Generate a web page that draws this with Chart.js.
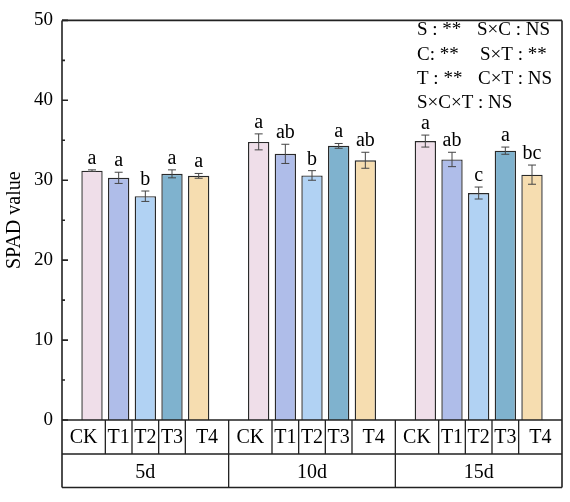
<!DOCTYPE html>
<html>
<head>
<meta charset="utf-8">
<script src="https://cdn.jsdelivr.net/npm/chart.js@4.4.1/dist/chart.umd.min.js"></script>
<style>
  html, body { margin: 0; padding: 0; background: #ffffff; }
  #wrap { width: 570px; height: 502px; }
</style>
</head>
<body>
<div id="wrap"><canvas id="c" width="570" height="502"></canvas></div>
<script>
// ---------- data ----------
const days = ['5d', '10d', '15d'];
const treatments = ['CK', 'T1', 'T2', 'T3', 'T4'];

const CK = [31.2, 34.8, 34.9];
const T1 = [30.3, 33.3, 32.6];
const T2 = [28.0, 30.6, 28.4];
const T3 = [30.8, 34.3, 33.7];
const T4 = [30.55, 32.5, 30.7];

const CK_err = [0.1, 1.0, 0.75];
const T1_err = [0.7, 1.2, 0.9];
const T2_err = [0.65, 0.6, 0.75];
const T3_err = [0.5, 0.3, 0.45];
const T4_err = [0.3, 1.0, 1.2];

const CK_sig = ['a', 'a', 'a'];
const T1_sig = ['a', 'ab', 'ab'];
const T2_sig = ['b', 'b', 'c'];
const T3_sig = ['a', 'a', 'a'];
const T4_sig = ['a', 'ab', 'bc'];

const yTicks = [0, 10, 20, 30, 40, 50];
const yMinorTicks = [5, 15, 25, 35, 45];
const yTitle = 'SPAD value';

const anovaLines = [
  ['S : **', 'S×C : NS'],
  ['C: **', 'S×T : **'],
  ['T : **', 'C×T : NS'],
  ['S×C×T : NS']
];

// ---------- styles ----------
const FONT = '"Liberation Serif", "Times New Roman", serif';
const colors = ['#EFDEE9', '#AFBDE9', '#B1D2F3', '#7FB2CE', '#F6DDB0'];
const values = [CK, T1, T2, T3, T4];
const errors = [CK_err, T1_err, T2_err, T3_err, T4_err];
const sigs = [CK_sig, T1_sig, T2_sig, T3_sig, T4_sig];

const datasets = treatments.map((t, k) => ({
  label: t,
  data: values[k],
  backgroundColor: colors[k],
  borderColor: '#2a2a2a',
  borderWidth: 1.4,
  categoryPercentage: 0.8,
  barPercentage: 0.8,
  errs: errors[k],
  sig: sigs[k]
}));

const ROW1 = 34, ROW2 = 33.5;
const col2Shift = [0, 3, 1, 0];

const decorPlugin = {
  id: 'decor',
  afterDatasetsDraw(chart) {
    const ctx = chart.ctx;
    const y = chart.scales.y;
    ctx.save();
    chart.data.datasets.forEach((ds, d) => {
      const meta = chart.getDatasetMeta(d);
      meta.data.forEach((bar, i) => {
        const v = ds.data[i], e = ds.errs[i];
        const yt = y.getPixelForValue(v + e);
        const yb = y.getPixelForValue(v - e);
        ctx.strokeStyle = '#444444';
        ctx.lineWidth = 1;
        ctx.beginPath();
        ctx.moveTo(bar.x, yt); ctx.lineTo(bar.x, yb);
        ctx.moveTo(bar.x - 4, yt); ctx.lineTo(bar.x + 4, yt);
        ctx.moveTo(bar.x - 4, yb); ctx.lineTo(bar.x + 4, yb);
        ctx.stroke();
        ctx.fillStyle = '#000000';
        ctx.font = '20px ' + FONT;
        ctx.textAlign = 'center';
        ctx.textBaseline = 'alphabetic';
        ctx.fillText(ds.sig[i], bar.x, yt - 6);
      });
    });
    ctx.restore();
  },
  afterDraw(chart) {
    const ctx = chart.ctx;
    const { left, right, top, bottom } = chart.chartArea;
    const y = chart.scales.y;
    const nG = chart.data.labels.length;
    const gw = (right - left) / nG;
    const r1 = bottom + ROW1, r2 = r1 + ROW2;
    ctx.save();
    ctx.strokeStyle = '#222222';
    ctx.lineWidth = 1.6;
    // frame
    ctx.beginPath();
    ctx.moveTo(left, top); ctx.lineTo(right, top);
    ctx.moveTo(left, top); ctx.lineTo(left, r2);
    ctx.moveTo(right, top); ctx.lineTo(right, r2);
    ctx.moveTo(left, bottom); ctx.lineTo(right, bottom);
    ctx.stroke();
    // y ticks (inward)
    ctx.beginPath();
    yTicks.forEach(v => { const p = y.getPixelForValue(v); ctx.moveTo(left, p); ctx.lineTo(left + 6, p); });
    yMinorTicks.forEach(v => { const p = y.getPixelForValue(v); ctx.moveTo(left, p); ctx.lineTo(left + 3, p); });
    ctx.stroke();
    // table
    ctx.lineWidth = 1.3;
    ctx.beginPath();
    ctx.moveTo(left, r1); ctx.lineTo(right, r1);
    ctx.moveTo(left, r2); ctx.lineTo(right, r2);
    for (let g = 1; g < nG; g++) {
      const gx = left + g * gw;
      ctx.moveTo(gx, bottom); ctx.lineTo(gx, r2);
    }
    ctx.stroke();
    ctx.fillStyle = '#000000';
    ctx.font = '20px ' + FONT;
    ctx.textAlign = 'center';
    ctx.textBaseline = 'middle';
    const nD = chart.data.datasets.length;
    for (let g = 0; g < nG; g++) {
      const bounds = [left + g * gw];
      for (let d = 0; d < nD - 1; d++) {
        const a = chart.getDatasetMeta(d).data[g].x;
        const b = chart.getDatasetMeta(d + 1).data[g].x;
        bounds.push((a + b) / 2);
      }
      bounds.push(left + (g + 1) * gw);
      ctx.beginPath();
      for (let k = 1; k < bounds.length - 1; k++) {
        ctx.moveTo(bounds[k], bottom); ctx.lineTo(bounds[k], r1);
      }
      ctx.stroke();
      for (let d = 0; d < nD; d++) {
        ctx.fillText(chart.data.datasets[d].label, (bounds[d] + bounds[d + 1]) / 2, (bottom + r1) / 2 + 1);
      }
      ctx.fillText(chart.data.labels[g], left + (g + 0.5) * gw, (r1 + r2) / 2 + 1.5);
    }
    // ANOVA text
    ctx.font = '19px ' + FONT;
    ctx.textAlign = 'left';
    ctx.textBaseline = 'alphabetic';
    const col1 = right - 145, col2 = right - 85;
    anovaLines.forEach((ln, i) => {
      const by = top + 15 + i * 24.3;
      ctx.fillText(ln[0], col1, by);
      if (ln[1]) ctx.fillText(ln[1], col2 + col2Shift[i], by);
    });
    ctx.restore();
  }
};

new Chart(document.getElementById('c'), {
  type: 'bar',
  data: { labels: days, datasets: datasets },
  options: {
    responsive: false,
    animation: false,
    devicePixelRatio: 1,
    layout: { padding: { top: 18, right: 8, bottom: 82, left: 0 } },
    plugins: { legend: { display: false }, tooltip: { enabled: false } },
    scales: {
      x: { display: false },
      y: {
        min: 0, max: 50,
        afterFit(scale) { scale.width = 62; },
        afterBuildTicks(scale) { scale.ticks = yTicks.map(v => ({ value: v })); },
        grid: { display: false, drawTicks: false },
        border: { display: false },
        ticks: { color: '#000000', padding: 9, font: { family: FONT, size: 19 } },
        title: { display: true, text: yTitle, color: '#000000', padding: 3, font: { family: FONT, size: 20 } }
      }
    }
  },
  plugins: [decorPlugin]
});
</script>
</body>
</html>
